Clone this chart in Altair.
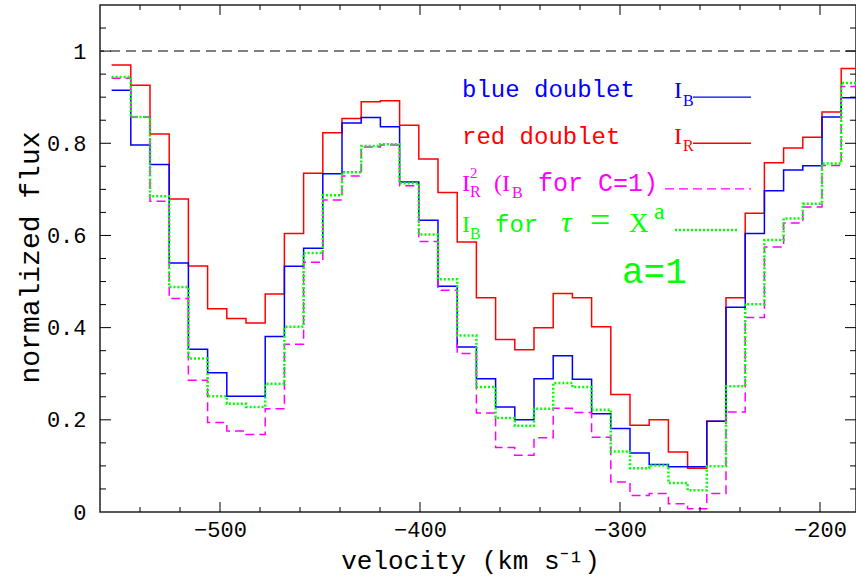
import altair as alt
import pandas as pd

# ---- data ----
velocity = [-549.4, -539.8, -530.2, -520.6, -511.0, -501.4, -491.8, -482.2, -472.6, -463.0,
            -453.4, -443.8, -434.2, -424.6, -415.0, -405.4, -395.8, -386.2, -376.6, -367.0,
            -357.4, -347.8, -338.2, -328.6, -319.0, -309.4, -299.8, -290.2, -280.6, -271.0,
            -261.4, -251.8, -242.2, -232.6, -223.0, -213.4, -203.8, -194.2, -184.6]
bin_width = 9.6

flux_red = [0.970, 0.926, 0.820, 0.679, 0.534, 0.441, 0.420, 0.410, 0.473, 0.604,
            0.735, 0.823, 0.854, 0.890, 0.892, 0.839, 0.766, 0.693, 0.586, 0.465,
            0.374, 0.352, 0.400, 0.474, 0.465, 0.402, 0.255, 0.188, 0.200, 0.130,
            0.095, 0.197, 0.465, 0.648, 0.758, 0.790, 0.813, 0.868, 0.962]
flux_blue = [0.915, 0.796, 0.754, 0.540, 0.353, 0.302, 0.251, 0.251, 0.381, 0.533,
             0.572, 0.734, 0.844, 0.856, 0.836, 0.716, 0.633, 0.490, 0.358, 0.289,
             0.228, 0.200, 0.289, 0.339, 0.288, 0.213, 0.181, 0.128, 0.103, 0.098,
             0.098, 0.197, 0.444, 0.604, 0.697, 0.742, 0.751, 0.857, 0.899]
flux_red_sq = [0.941, 0.857, 0.674, 0.463, 0.286, 0.194, 0.176, 0.168, 0.224, 0.364,
               0.542, 0.677, 0.729, 0.792, 0.796, 0.708, 0.587, 0.481, 0.344, 0.215,
               0.140, 0.123, 0.161, 0.225, 0.216, 0.162, 0.065, 0.036, 0.040, 0.018,
               0.007, 0.040, 0.217, 0.422, 0.575, 0.627, 0.662, 0.752, 0.923]
flux_tau = [0.944, 0.857, 0.685, 0.488, 0.333, 0.251, 0.235, 0.228, 0.278, 0.402,
            0.562, 0.687, 0.737, 0.794, 0.798, 0.713, 0.602, 0.505, 0.383, 0.271,
            0.204, 0.187, 0.224, 0.280, 0.271, 0.222, 0.131, 0.095, 0.101, 0.063,
            0.047, 0.099, 0.273, 0.451, 0.590, 0.637, 0.669, 0.756, 0.931]

x_label_ticks = [-500, -400, -300, -200]
x_minor_ticks = [-540, -520, -480, -460, -440, -420, -380, -360, -340, -320,
                 -280, -260, -240, -220]
y_label_ticks = [0, 0.2, 0.4, 0.6, 0.8, 1.0]
y_major_ticks = [0.2, 0.4, 0.6, 0.8, 1.0]
y_minor_ticks = [0.05, 0.1, 0.15, 0.25, 0.3, 0.35, 0.45, 0.5, 0.55, 0.65, 0.7, 0.75,
                 0.85, 0.9, 0.95, 1.05]

BLUE, RED, MAG, GRN = "#0000ff", "#ff0000", "#ff00ff", "#00ff00"

# legend words in the wide typewriter-like face
mono_v = [-379, -379, -341, -362.5, -299]
mono_f = [0.900, 0.798, 0.696, 0.6075, 0.497]
mono_text = ["blue doublet", "red doublet", "for C=1)", "for", "a=1"]
mono_size = [24, 24, 25, 24, 36]
mono_color = [BLUE, RED, MAG, GRN, GRN]

# symbols with sub/superscripts in the serif face
sym_v = [-273, -268.5,
         -273, -268.5,
         -379, -375, -375, -363, -354,
         -379, -375, -315, -295.5, -283]
sym_f = [0.898, 0.881,
         0.798, 0.783,
         0.696, 0.725, 0.683, 0.696, 0.681,
         0.6075, 0.592, 0.6075, 0.6075, 0.636]
sym_text = ["I", "B",
            "I", "R",
            "I", "2", "R", "(I", "B",
            "I", "B", "=", "X", "a"]
sym_size = [24, 16,
            24, 16,
            24, 15, 16, 24, 16,
            24, 16, 36, 27, 24]
sym_color = [BLUE, BLUE,
             RED, RED,
             MAG, MAG, MAG, MAG, MAG,
             GRN, GRN, GRN, GRN, GRN]
tau_v, tau_f = [-329.5], [0.6075]

# legend sample lines: (x start, x end, y)
line_x1 = [-263.5, -263.5, -277.5, -272.5]
line_x2 = [-234.5, -234.5, -234.5, -241.5]
line_y = [0.900, 0.800, 0.701, 0.612]

W, H = 756, 507
xscale = alt.Scale(domain=[-560, -182], nice=False, zero=False)
yscale = alt.Scale(domain=[0, 1.1], nice=False, zero=False)
MONO = "Liberation Mono"
SERIF = "Liberation Serif"

x_axis = alt.Axis(values=x_label_ticks, title="velocity (km s⁻¹)", grid=False, ticks=False,
                  domain=False, labelFont=MONO, labelFontSize=22, labelPadding=7,
                  labelColor="black", labelFlush=False, labelOverlap=False,
                  titleFont=MONO, titleFontSize=26, titleFontWeight="normal",
                  titleColor="black", titleBaseline="alphabetic", titleY=56, titleX=370)
y_axis = alt.Axis(values=y_label_ticks, format="~g", title="normalized flux", grid=False,
                  ticks=False, domain=False, labelFont=MONO, labelFontSize=22,
                  labelPadding=14, labelColor="black", labelFlush=False, labelOverlap=False,
                  titleFont=MONO, titleFontSize=28, titleFontWeight="normal",
                  titleColor="black", titleBaseline="alphabetic", titleX=-62, titleY=252)


def X(field):
    return alt.X(field, type="quantitative", scale=xscale, axis=x_axis)


def Y(field):
    return alt.Y(field, type="quantitative", scale=yscale, axis=y_axis)


def step_df(vals):
    edges = [v - bin_width / 2 for v in velocity] + [velocity[-1] + bin_width / 2]
    ys = list(vals) + [vals[-1]]
    return pd.DataFrame({"v": edges, "f": ys})


def steps(vals, color, dash=None, width=1.5):
    kw = dict(interpolate="step-after", clip=True, color=color, strokeWidth=width)
    if dash:
        kw["strokeDash"] = dash
    return alt.Chart(step_df(vals)).mark_line(**kw).encode(
        x=X("v"), y=Y("f"), order="v:Q")


red_line = steps(flux_red, RED)
blue_line = steps(flux_blue, BLUE)
mag_line = steps(flux_red_sq, MAG, dash=[9, 5])
grn_line = steps(flux_tau, GRN, dash=[2, 2], width=2.5)

unity = alt.Chart(pd.DataFrame({"f": [1.0]})).mark_rule(
    color="#555555", strokeDash=[10, 6], strokeWidth=1.5
).encode(y=Y("f"))


def xticks(vals, length, top):
    y0, y1 = (0, length) if top else (H, H - length)
    return alt.Chart(pd.DataFrame({"v": vals})).mark_rule(color="black", strokeWidth=1).encode(
        x=X("v"), y=alt.value(y0), y2=alt.value(y1))


def yticks(vals, length, right):
    x0, x1 = (W, W - length) if right else (0, length)
    return alt.Chart(pd.DataFrame({"f": vals})).mark_rule(color="black", strokeWidth=1).encode(
        y=Y("f"), x=alt.value(x0), x2=alt.value(x1))


tick_layers = [
    xticks(x_label_ticks, 10, False), xticks(x_minor_ticks, 5, False),
    xticks(x_label_ticks, 10, True), xticks(x_minor_ticks, 5, True),
    yticks(y_major_ticks, 11, False), yticks(y_minor_ticks, 6, False),
    yticks(y_major_ticks, 11, True), yticks(y_minor_ticks, 6, True),
]


def text_layer(vs, fs, texts, sizes, colors, font):
    df = pd.DataFrame({"v": vs, "f": fs, "label": texts, "size": sizes, "color": colors})
    return alt.Chart(df).mark_text(align="left", baseline="alphabetic", font=font).encode(
        x=X("v"), y=Y("f"),
        text="label:N",
        size=alt.Size("size:Q", scale=None, legend=None),
        color=alt.Color("color:N", scale=None, legend=None),
    )


mono_layer = text_layer(mono_v, mono_f, mono_text, mono_size, mono_color, MONO)
sym_layer = text_layer(sym_v, sym_f, sym_text, sym_size, sym_color, SERIF)
tau_text = alt.Chart(pd.DataFrame({"v": tau_v, "f": tau_f, "label": ["τ"]})).mark_text(
    align="left", baseline="alphabetic", font=SERIF, fontStyle="italic", fontSize=30, color=GRN
).encode(x=X("v"), y=Y("f"), text="label:N")


def leg_line(i, color, dash=None, width=1.3):
    kw = dict(color=color, strokeWidth=width)
    if dash:
        kw["strokeDash"] = dash
    df = pd.DataFrame({"v": [line_x1[i]], "b": [line_x2[i]], "f": [line_y[i]]})
    return alt.Chart(df).mark_rule(**kw).encode(x=X("v"), x2="b:Q", y=Y("f"))


legend_lines = [leg_line(0, BLUE), leg_line(1, RED), leg_line(2, MAG, [9, 5]),
                leg_line(3, GRN, [2, 2], 2.5)]

chart = alt.layer(
    red_line, blue_line, mag_line, grn_line, unity, *tick_layers,
    mono_layer, sym_layer, tau_text, *legend_lines
).properties(
    width=W, height=H,
    autosize=alt.AutoSizeParams(type="none"),
    padding={"left": 100, "top": 5, "right": 0, "bottom": 70},
    background="white",
).configure_view(stroke="#222222", strokeWidth=1.5)

chart.save("out.html", embed_options={"renderer": "svg", "actions": False})
